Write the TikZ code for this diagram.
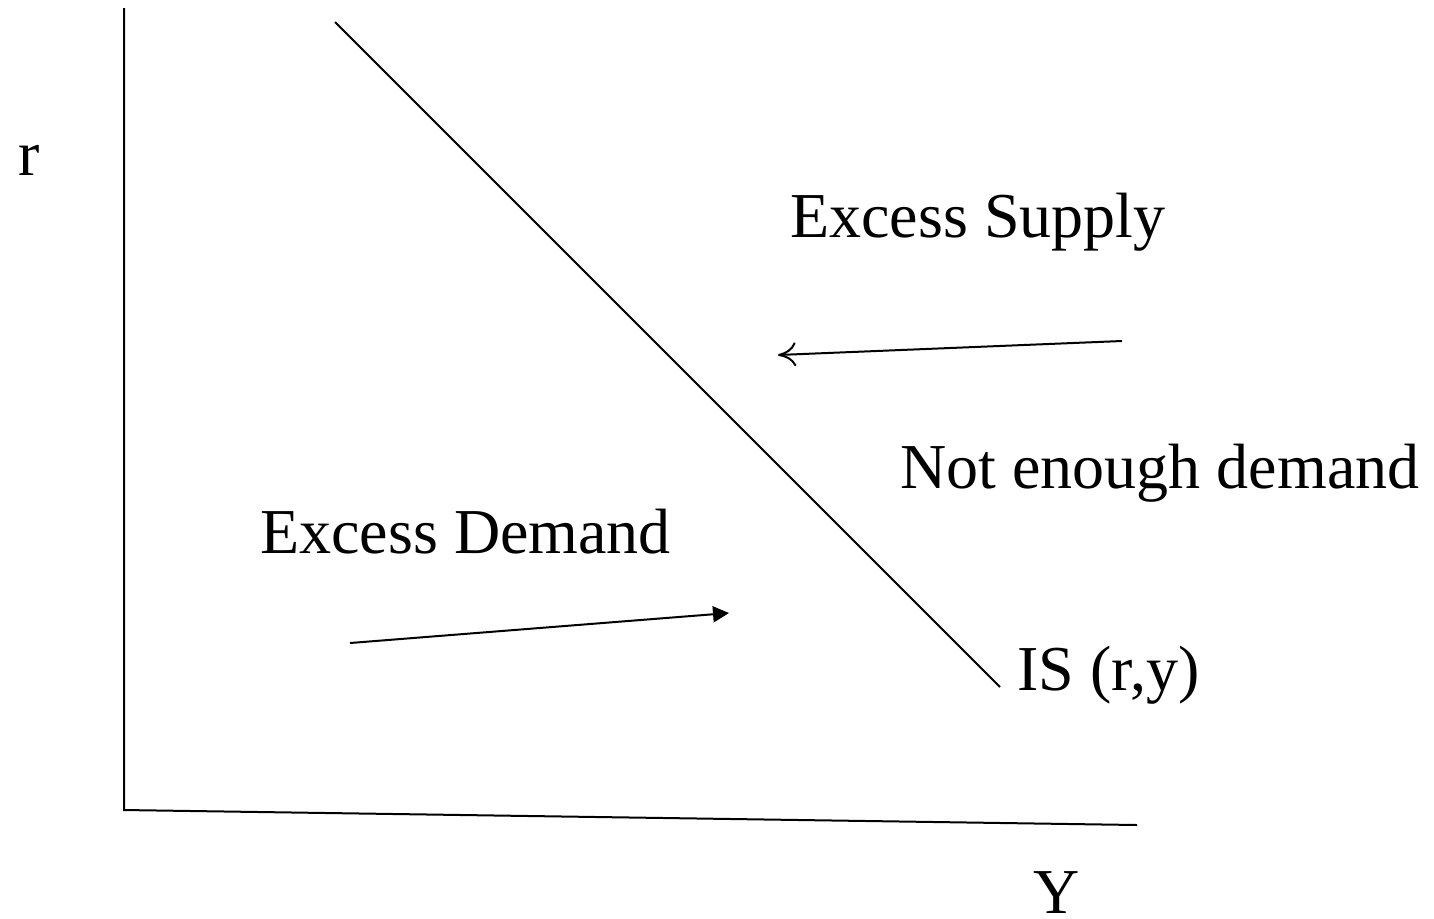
\documentclass[tikz,border=0pt]{standalone}
\usepackage{fontspec}
\setmainfont{Liberation Serif}
\usetikzlibrary{arrows.meta}
\begin{document}
\begin{tikzpicture}[x=0.5pt,y=-0.5pt,
  line/.style={line width=1pt,black},
  lbl/.style={anchor=base west,inner sep=0pt,font=\fontsize{32}{38}\selectfont}]
\useasboundingbox (0,0) rectangle (1434,918);
\coordinate (ytop) at (124,8);
\coordinate (origin) at (124,810);
\coordinate (xend) at (1137,825);
\coordinate (istop) at (335,22);
\coordinate (isbot) at (1000,687);
\coordinate (a1s) at (1122,341);
\coordinate (a1e) at (778,355);
\coordinate (a2s) at (350,643);
\coordinate (a2e) at (729,613);
\draw[line] (ytop) -- (origin) -- (xend);
\draw[line] (istop) -- (isbot);
\draw[line,-{To[length=9pt,width=12pt]}] (a1s) -- (a1e);
\draw[line,-{Triangle[length=8pt,width=8pt]}] (a2s) -- (a2e);
\node[lbl] (r) at (18,175) {r};
\node[lbl] (es) at (790,237) {Excess Supply};
\node[lbl] (ned) at (900,488) {Not enough demand};
\node[lbl] (ed) at (260,553) {Excess Demand};
\node[lbl] (is) at (1017,690) {IS (r,y)};
\node[lbl] (Y) at (1033,913) {Y};
\end{tikzpicture}
\end{document}
